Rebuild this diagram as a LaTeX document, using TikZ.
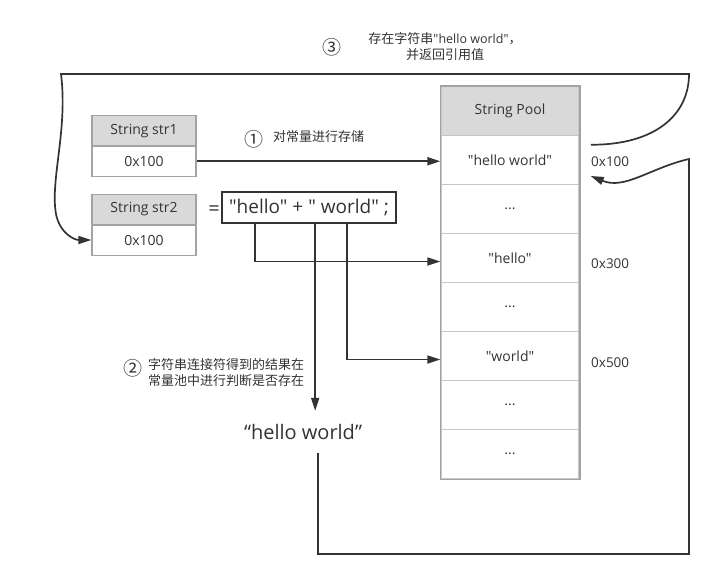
\documentclass[tikz,border=0pt]{standalone}
\usepackage{fontspec}
\setmainfont{Open Sans}[Ligatures=TeXOff]
\newfontfamily\cjk{Noto Sans CJK SC}[Ligatures=TeXOff]
\usetikzlibrary{arrows.meta,calc}
\definecolor{ink}{HTML}{333333}
\definecolor{boxgray}{HTML}{A3A3A3}
\definecolor{rowgray}{HTML}{C6C6C6}
\definecolor{hdrgray}{HTML}{D9D9D9}
\begin{document}
\begin{tikzpicture}[x=1pt,y=-1pt,
  txt/.style={text=ink,inner sep=0pt},
  cell/.style={draw=boxgray,line width=1.5pt,minimum width=104pt,minimum height=30.5pt,inner sep=0pt,text=ink,font=\fontsize{14}{16}\selectfont},
  hdr/.style={cell,fill=hdrgray},
  prow/.style={draw=rowgray,line width=1.5pt,minimum width=138pt,minimum height=49pt,inner sep=0pt,text=ink,font=\fontsize{14}{16}\selectfont},
  phdr/.style={prow,fill=hdrgray},
  addr/.style={txt,anchor=west,font=\fontsize{13.5}{15}\selectfont},
  lbl/.style={txt,font=\fontsize{13}{16}\cjk},
  circ/.style={txt,font=\fontsize{19}{20}\cjk},
  arr/.style={draw=ink,line width=1.7pt,-{Triangle[length=13pt,width=8pt]}},
  ln/.style={draw=ink,line width=1.7pt},
]
\useasboundingbox (0,0) rectangle (714,581);

% variable boxes
\node[hdr]  (s1h) at (144,130.75) {String str1};
\node[cell] (s1v) at (144,161.25) {0x100};
\node[hdr]  (s2h) at (144,209.5) {String str2};
\node[cell] (s2v) at (144,240) {0x100};

% string pool
\node[phdr] (p0) at (510,111) {String Pool};
\node[prow] (p1) at (510,160) {"hello world"};
\node[prow] (p2) at (510,209) {...};
\node[prow] (p3) at (510,258) {"hello"};
\node[prow] (p4) at (510,307) {...};
\node[prow] (p5) at (510,356) {"world"};
\node[prow] (p6) at (510,405) {...};
\node[prow] (p7) at (510,454) {...};
\draw[boxgray,line width=1.5pt] (p0.north west) rectangle (p7.south east);

\node[addr] (a1) at (591,162) {0x100};
\node[addr] (a3) at (591,264) {0x300};
\node[addr] (a5) at (591,363) {0x500};

% expression
\node[txt,font=\fontsize{20}{22}\selectfont] (eq) at (214,211) {=};
\node[draw=ink,line width=1.7pt,minimum width=174pt,minimum height=31pt,inner sep=0pt,text=ink,font=\fontsize{19}{22}\selectfont] (expr) at (309,207.5) {"hello" + " world" ;};

% result
\node[txt,minimum height=42pt,font=\fontsize{20}{22}\selectfont] (res) at (303,432) {“hello world”};

% labels
\node[circ] (c3) at (332,47) {③};
\node[lbl,align=center] (t3) at (445,46.5) {存在字符串{\rmfamily\fontsize{12.5}{16}\selectfont"hello world"}，\\并返回引用值};
\node[circ] (c1) at (254,139) {①};
\node[lbl,anchor=west] (t1) at (273,137) {对常量进行存储};
\node[circ] (c2) at (133,368) {②};
\node[lbl,align=left,anchor=west] (t2) at (148,373) {字符串连接符得到的结果在\\常量池中进行判断是否存在};

% connectors
\draw[arr] (s1v.east) -- (s1v.east -| p1.west);
\coordinate (hx) at ([xshift=34pt]expr.south west);
\coordinate (mx) at ([xshift=94pt]expr.south west);
\coordinate (wx) at ([xshift=126pt]expr.south west);
\draw[arr] (hx) |- ([yshift=-3.5pt]p3.west);
\draw[arr] (wx) |- ([yshift=-3.5pt]p5.west);
\draw[arr] (mx) -- (mx |- res.north);

\coordinate (br) at (689,554);
\coordinate (tip) at ([xshift=11pt,yshift=-16pt]p1.east);
\draw[arr] ([xshift=15pt]res.south) |- (br) -- (689,159)
  .. controls (650,168) and (625,190) .. (tip);

\coordinate (tr) at (689,74);
\coordinate (tl) at (61,74);
\draw[arr] ([xshift=11pt,yshift=-10pt]p1.north east)
  .. controls (655,145) and (689,115) .. (tr) -- (tl)
  .. controls (68,130) and (50,180) .. (56,214)
  .. controls (60,234) and (75,240) .. (s2v.west);
\end{tikzpicture}
\end{document}
